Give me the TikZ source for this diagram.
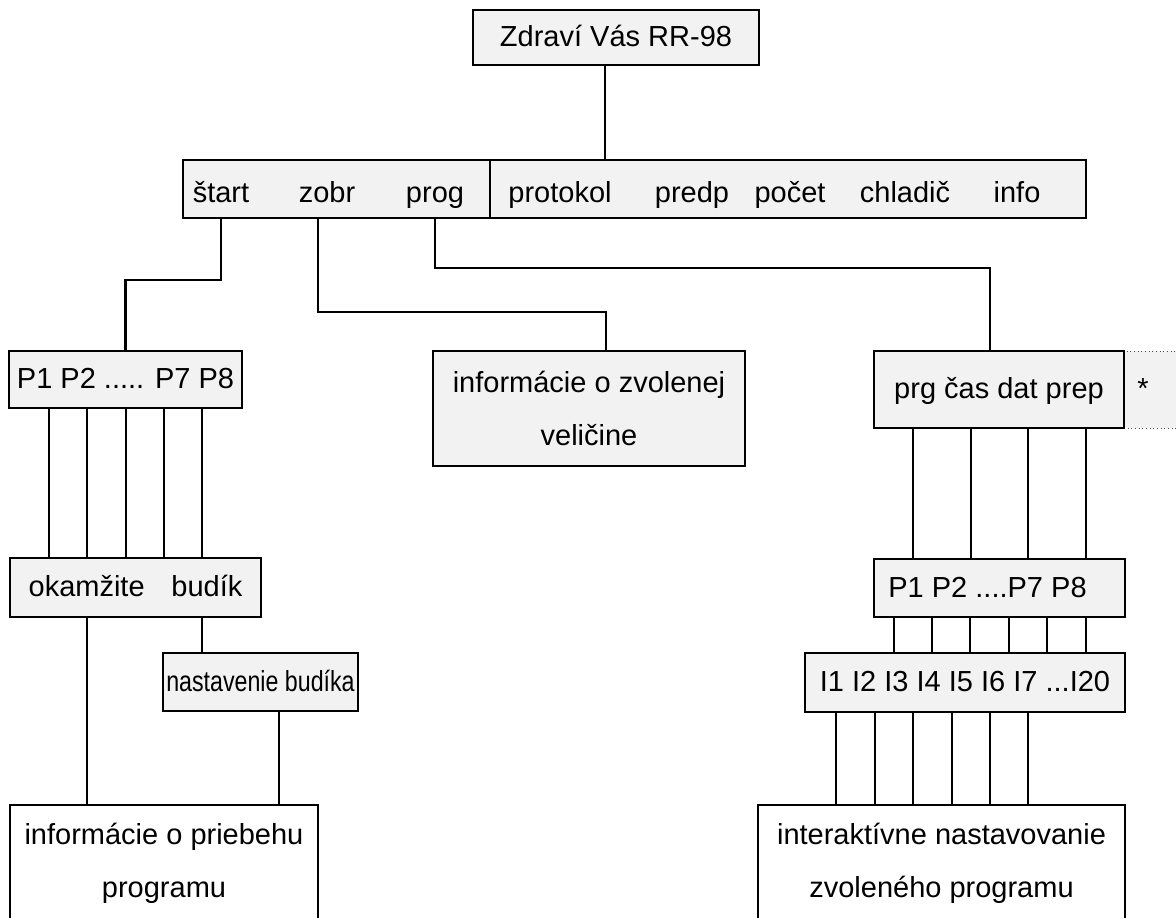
\documentclass[tikz,border=0pt]{standalone}
\usepackage{fontspec}
\setmainfont{Liberation Sans}
\usepackage{graphicx}
\usetikzlibrary{calc}
\definecolor{boxgray}{RGB}{242,242,242}
\tikzset{
  box/.style            = { rectangle, inner sep=0pt, outer sep=0pt },
  border/.style         = { draw=black, line width=1.7pt },
  size/.style 2 args    = { minimum width=#1*0.75pt, minimum height=#2*0.75pt },
  oneline/.style        = { text height=15.5pt, text depth=2pt },
}
\tikzset{
  menu/.style           = { box, border, fill=boxgray, oneline },
  screen/.style         = { box, border, fill=boxgray, align=center },
  page/.style           = { box, border, fill=white, align=center },
  hint/.style           = { box, oneline, draw=black!70, line width=0.75pt, dotted, fill=boxgray },
  word/.style           = { inner sep=0pt, anchor=base }
}

\begin{document}
\begin{tikzpicture}[
  x=0.75pt,y=-0.75pt,
  line width=1.7pt,line join=miter,
  font=\fontsize{21.75}{39.75}\selectfont
]
  \useasboundingbox (0,0) rectangle (1176,917);
  \clip (0,0) rectangle (1176,917);

  \node (hello) [menu,size={286}{55}] at (616,37.5) {Zdraví Vás RR-98};

  \node (barl) [menu,size={307}{58}] at (336.5,189) {};
  \node (barr) [menu,size={596}{58}] at (788,189)   {};
  \node (start) [word] at (221,202)  {štart};
  \node (zobr)  [word] at (327,202)  {zobr};
  \node (prog)  [word] at (435,202)  {prog};
  \node (prot)  [word] at (560,202)  {protokol};
  \node (predp) [word] at (692,202)  {predp};
  \node (pocet) [word] at (790,202)  {počet};
  \node (chlad) [word] at (905,202)  {chladič};
  \node (inf)   [word] at (1017,202) {info};

  \node (pa)      [menu,size={233}{57}]   at (125.5,379.5) {P1 P2 ..... P7 P8};
  \node (info)    [screen,size={312}{115}] at (589,408.5)  {informácie o zvolenej\\veličine};
  \node (star)    [hint,size={66}{77}]    at (1157,389.5)  {*\kern21pt};
  \node (prg)     [menu,size={250}{77}]   at (999,389.5)   {prg čas dat prep};

  \node (ok)      [menu,size={251}{59}]   at (135.5,587.5) {okamžite\hspace{14pt} budík};
  \node (pb)      [menu,size={251}{58}]   at (999.5,588)   {P1 P2 ....P7 P8\kern18pt};

  \node (alarm)   [menu,size={195}{58}]   at (260.5,682)   {\scalebox{0.8}[1]{nastavenie budíka}};
  \node (ib)      [menu,size={320}{59}]   at (965,682.5)   {I1 I2 I3 I4 I5 I6 I7 ...I20};

  \node (runinfo) [page,size={308}{117}]  at (164,863.5)   {informácie o priebehu\\programu};
  \node (setup)   [page,size={367}{117}]  at (941.5,863.5) {interaktívne nastavovanie\\zvoleného programu};

  \draw (hello.south -| 605,0) -- (barr.north -| 605,0);

  \draw (start |- barl.south) -- ++(0,62) -| (pa.north);
  \draw (barl.south -| 318,0) -- ++(0,94) -| ($(info.north)+(17,0)$);
  \draw (prog |- barl.south)  -- ++(0,50) -| ($(prg.north)+(-9,0)$);

  \foreach \x in {49,87,126,164,202}
    \draw (pa.south -| \x,0) -- (ok.north -| \x,0);
  \draw (ok.south -| 87,0)     -- (runinfo.north -| 87,0);
  \draw (ok.south -| 202,0)    -- (alarm.north -| 202,0);
  \draw (alarm.south -| 279,0) -- (runinfo.north -| 279,0);

  \foreach \x in {913,971,1028,1086}
    \draw (prg.south -| \x,0) -- (pb.north -| \x,0);
  \foreach \x in {894,932,970,1009,1047,1086}
    \draw (pb.south -| \x,0) -- (ib.north -| \x,0);
  \foreach \x in {836,875,913,952,990,1028}
    \draw (ib.south -| \x,0) -- (setup.north -| \x,0);

\end{tikzpicture}
\end{document}
